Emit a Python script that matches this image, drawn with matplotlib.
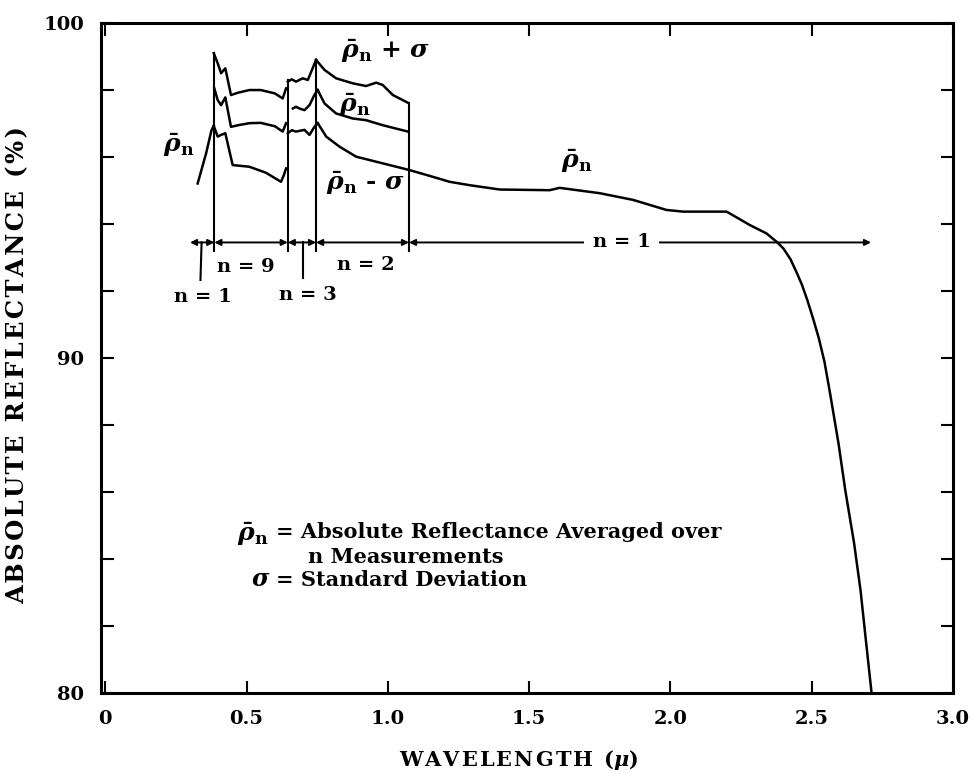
import matplotlib
matplotlib.use("Agg")
import matplotlib.pyplot as plt
import numpy as np

plt.rcParams['font.family'] = ['DejaVu Serif']
plt.rcParams['font.weight'] = 'bold'
plt.rcParams['mathtext.fontset'] = 'dejavuserif'

# ---------------- data (wavelength in micron, reflectance in %) ----------------
# n = 1 segment at the short-wavelength end
n1a_wl = [0.327, 0.357, 0.376, 0.384]
n1a_rho = [95.21, 96.11, 96.80, 96.93]

# n = 9 region
n9_up_wl = [0.384, 0.398, 0.410, 0.425, 0.445, 0.47, 0.51, 0.55, 0.60, 0.628, 0.640]
n9_up = [99.10, 98.80, 98.50, 98.65, 97.85, 97.92, 98.00, 98.00, 97.90, 97.75, 98.05]
n9_mean_wl = [0.386, 0.398, 0.410, 0.425, 0.445, 0.47, 0.51, 0.55, 0.60, 0.628, 0.640]
n9_mean = [98.05, 97.70, 97.55, 97.78, 96.90, 96.95, 97.01, 97.02, 96.92, 96.76, 97.01]
n9_low_wl = [0.384, 0.398, 0.410, 0.425, 0.451, 0.51, 0.569, 0.622, 0.632, 0.640]
n9_low = [96.93, 96.61, 96.66, 96.71, 95.76, 95.71, 95.53, 95.26, 95.46, 95.66]

# n = 3 region
n3_up_wl = [0.646, 0.660, 0.675, 0.699, 0.717, 0.734, 0.746]
n3_up = [98.25, 98.32, 98.25, 98.35, 98.30, 98.65, 98.90]
n3_mean_wl = [0.664, 0.675, 0.687, 0.705, 0.723, 0.740, 0.752]
n3_mean = [97.45, 97.50, 97.45, 97.40, 97.55, 97.85, 98.00]
n3_low_wl = [0.646, 0.660, 0.675, 0.705, 0.723, 0.740, 0.752]
n3_low = [96.71, 96.80, 96.76, 96.81, 96.66, 96.90, 97.01]

# n = 2 region
n2_up_wl = [0.746, 0.776, 0.817, 0.876, 0.923, 0.959, 0.982, 1.018, 1.071]
n2_up = [98.90, 98.60, 98.35, 98.20, 98.12, 98.22, 98.15, 97.85, 97.62]
n2_mean_wl = [0.752, 0.776, 0.817, 0.876, 0.923, 0.982, 1.071]
n2_mean = [98.00, 97.60, 97.30, 97.15, 97.10, 96.95, 96.76]

# lower curve of n = 2 region continuing as the n = 1 mean to 2.7 micron
main_wl = [0.752, 0.782, 0.829, 0.888, 0.959, 1.030, 1.077, 1.159, 1.219, 1.289,
           1.396, 1.573, 1.608, 1.750, 1.868, 1.986, 2.045, 2.199, 2.281, 2.340,
           2.376, 2.400, 2.425, 2.447, 2.465, 2.485, 2.505, 2.525, 2.545, 2.565,
           2.595, 2.619, 2.650, 2.673, 2.691, 2.712]
main_rho = [97.01, 96.61, 96.31, 96.01, 95.86, 95.71, 95.61, 95.41, 95.26, 95.16,
            95.03, 95.01, 95.08, 94.92, 94.72, 94.42, 94.37, 94.37, 93.97, 93.72,
            93.47, 93.27, 92.95, 92.55, 92.20, 91.72, 91.18, 90.60, 89.90, 88.95,
            87.45, 86.05, 84.48, 83.06, 81.64, 80.00]

# region boundaries and number of measurements
boundaries = [0.30, 0.386, 0.646, 0.746, 1.075, 2.71]
boundary_tops = [99.10, 98.30, 98.90, 97.62]
n_counts = [1, 9, 3, 2, 1]

x_ticks = [0, 0.5, 1.0, 1.5, 2.0, 2.5, 3.0]
x_tick_labels = ['0', '0.5', '1.0', '1.5', '2.0', '2.5', '3.0']
y_ticks = list(range(80, 101, 2))
y_tick_labels = ['80', '', '', '', '', '90', '', '', '', '', '100']

# ---------------- figure ----------------
fig = plt.figure(figsize=(9.73, 7.73), dpi=100)
ax = fig.add_axes([0.1038, 0.1035, 0.8756, 0.8667])

lw = 1.8
for wl, r in [(n1a_wl, n1a_rho), (n9_up_wl, n9_up), (n9_mean_wl, n9_mean),
              (n9_low_wl, n9_low), (n3_up_wl, n3_up), (n3_mean_wl, n3_mean),
              (n3_low_wl, n3_low), (n2_up_wl, n2_up), (n2_mean_wl, n2_mean),
              (main_wl, main_rho)]:
    ax.plot(wl, r, color='black', lw=lw, solid_joinstyle='round')

# vertical region dividers
dim_y = 93.45
for b, top in zip(boundaries[1:5], boundary_tops):
    ax.plot([b, b], [top, 93.2], color='black', lw=1.5)

# dimension arrows
for i in range(len(boundaries) - 1):
    ax.annotate('', xy=(boundaries[i + 1], dim_y), xytext=(boundaries[i], dim_y),
                arrowprops=dict(arrowstyle='<|-|>', color='black', lw=1.4,
                                mutation_scale=9, shrinkA=0, shrinkB=0))

# leader lines for n = 1 (left) and n = 3
ax.plot([0.341, 0.337], [dim_y, 92.33], color='black', lw=1.5)
ax.plot([0.699, 0.699], [dim_y, 92.39], color='black', lw=1.5)

fs = 14
ax.text(0.345, 91.83, f'n = {n_counts[0]}', ha='center', va='center', fontsize=fs)
ax.text(0.498, 92.72, f'n = {n_counts[1]}', ha='center', va='center', fontsize=fs)
ax.text(0.717, 91.88, f'n = {n_counts[2]}', ha='center', va='center', fontsize=fs)
ax.text(0.923, 92.78, f'n = {n_counts[3]}', ha='center', va='center', fontsize=fs)
ax.text(1.827, dim_y, f'n = {n_counts[4]}', ha='center', va='center', fontsize=fs,
        bbox=dict(facecolor='white', edgecolor='none', pad=6))

# curve labels
rho_lbl = r'$\bar{\rho}_{\mathbf{n}}$'
rfs = 18
ax.text(0.835, 99.15, rho_lbl + r' + $\sigma$', ha='left', va='center', fontsize=rfs)
ax.text(0.829, 97.55, rho_lbl, ha='left', va='center', fontsize=rfs)
ax.text(0.203, 96.35, rho_lbl, ha='left', va='center', fontsize=rfs)
ax.text(0.782, 95.20, rho_lbl + r' - $\sigma$', ha='left', va='center', fontsize=rfs)
ax.text(1.614, 95.88, rho_lbl, ha='left', va='center', fontsize=rfs)

# explanation text
lfs = 15
ax.text(0.468, 84.75, rho_lbl, ha='left', va='center', fontsize=rfs)
ax.text(0.605, 84.81, '= Absolute Reflectance Averaged over', ha='left', va='center', fontsize=lfs)
ax.text(0.718, 84.07, 'n Measurements', ha='left', va='center', fontsize=lfs)
ax.text(0.585, 83.40, r'$\sigma$', ha='right', va='center', fontsize=lfs + 2)
ax.text(0.605, 83.37, '= Standard Deviation', ha='left', va='center', fontsize=lfs)

# axes styling
ax.set_xlim(-0.015, 3.0)
ax.set_ylim(80, 100)
ax.set_xticks(x_ticks)
ax.set_xticklabels(x_tick_labels)
ax.set_yticks(y_ticks)
ax.set_yticklabels(y_tick_labels)
ax.tick_params(direction='in', length=9, width=1.5, top=True, right=True,
               labelsize=14, pad=12)
for s in ax.spines.values():
    s.set_linewidth(2.2)

hair = '\u200a'
ax.set_xlabel(hair.join('WAVELENGTH (') + r'$\mu$' + ')', fontsize=15, fontweight='bold')
ax.set_ylabel(hair.join('ABSOLUTE REFLECTANCE (%)'), fontsize=17.5, fontweight='bold')
ax.xaxis.set_label_coords(0.49, -0.082)
ax.yaxis.set_label_coords(-0.084, 0.49)

fig.savefig('out.png', dpi=100)
